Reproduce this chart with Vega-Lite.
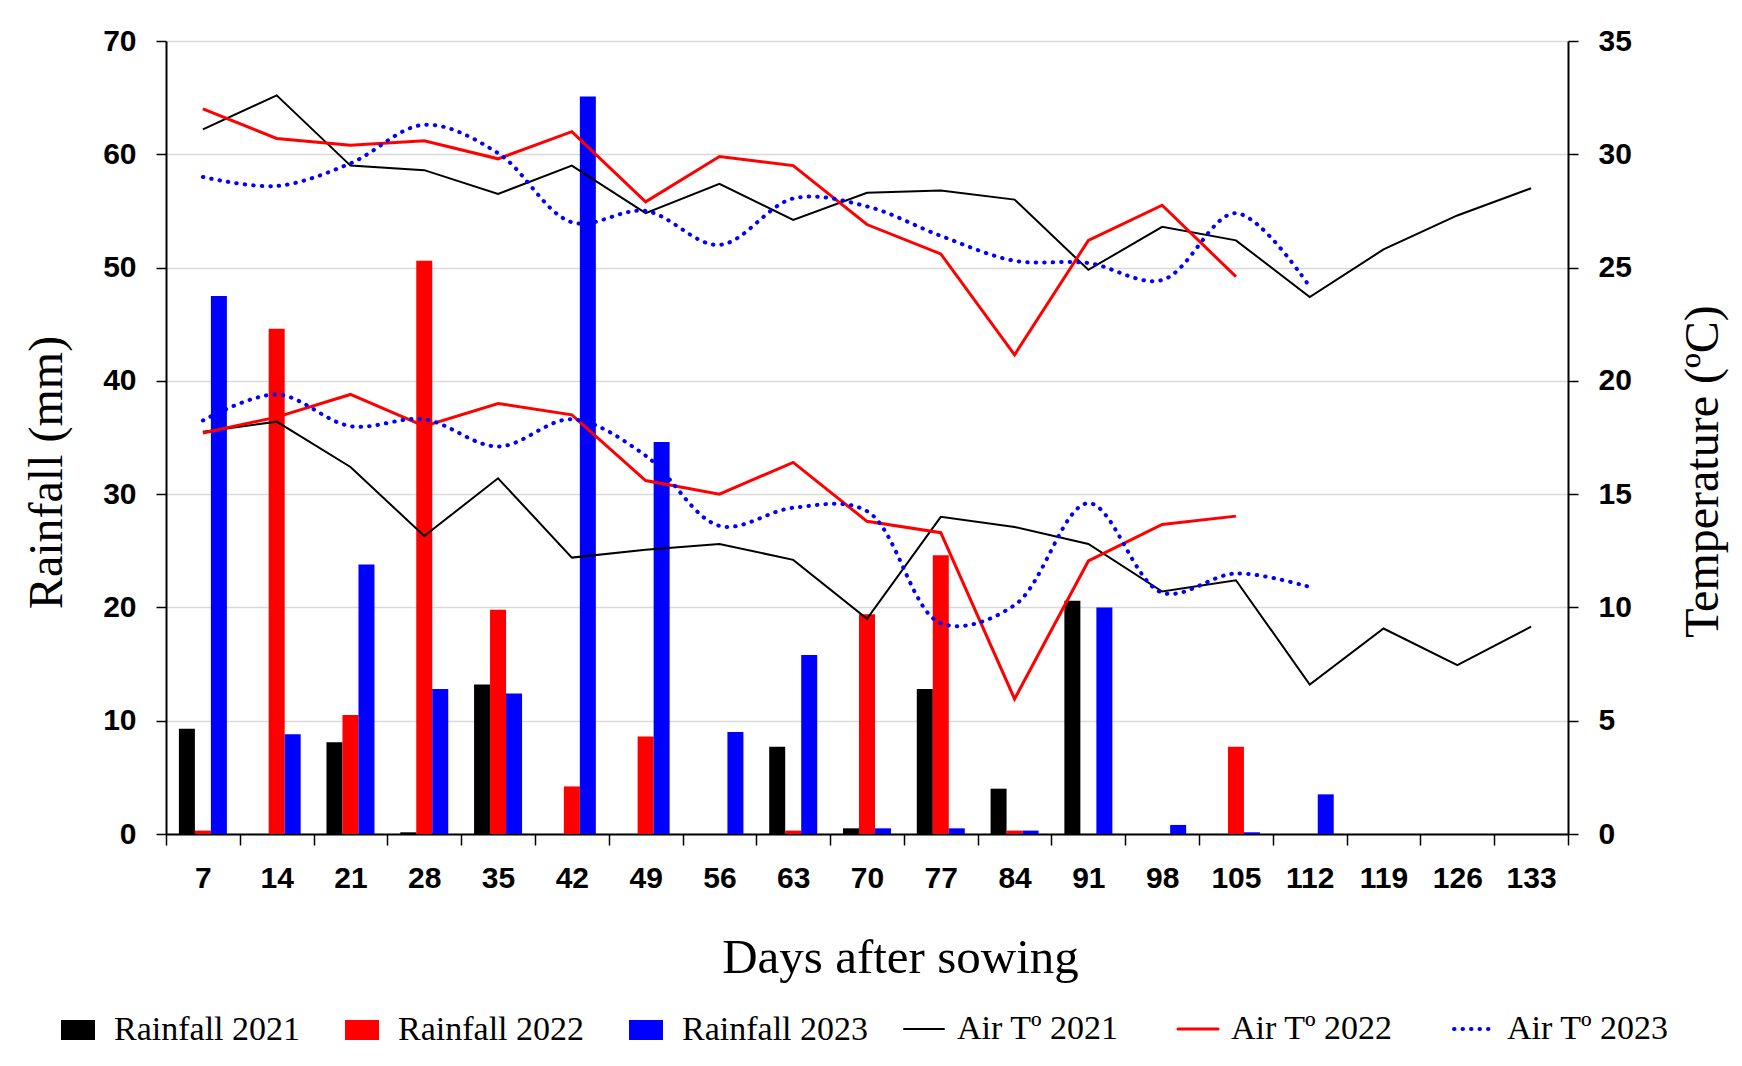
{
  "$schema": "https://vega.github.io/schema/vega-lite/v6.json",
  "autosize": {"type": "none"},
  "padding": {"left": 166, "top": 41, "right": 174, "bottom": 232},
  "width": 1402,
  "height": 793,
  "background": "white",
  "config": {
    "view": {"stroke": null},
    "axis": {
      "labelFont": "Liberation Sans",
      "labelFontWeight": "bold",
      "labelFontSize": 30,
      "labelColor": "#000000",
      "titleFont": "Liberation Serif",
      "titleFontWeight": "normal",
      "titleFontSize": 48,
      "titleColor": "#000000",
      "domainColor": "#000000",
      "domainWidth": 2,
      "tickColor": "#000000",
      "tickWidth": 1.5,
      "tickSize": 10
    }
  },
  "datasets": {
    "rain": [
      {"day": 7, "series": "Rainfall 2021", "mm": 9.3},
      {"day": 14, "series": "Rainfall 2021", "mm": 0},
      {"day": 21, "series": "Rainfall 2021", "mm": 8.1},
      {"day": 28, "series": "Rainfall 2021", "mm": 0.15},
      {"day": 35, "series": "Rainfall 2021", "mm": 13.2},
      {"day": 42, "series": "Rainfall 2021", "mm": 0},
      {"day": 49, "series": "Rainfall 2021", "mm": 0},
      {"day": 56, "series": "Rainfall 2021", "mm": 0},
      {"day": 63, "series": "Rainfall 2021", "mm": 7.7},
      {"day": 70, "series": "Rainfall 2021", "mm": 0.5},
      {"day": 77, "series": "Rainfall 2021", "mm": 12.8},
      {"day": 84, "series": "Rainfall 2021", "mm": 4.0},
      {"day": 91, "series": "Rainfall 2021", "mm": 20.6},
      {"day": 98, "series": "Rainfall 2021", "mm": 0},
      {"day": 105, "series": "Rainfall 2021", "mm": 0},
      {"day": 112, "series": "Rainfall 2021", "mm": 0},
      {"day": 119, "series": "Rainfall 2021", "mm": 0},
      {"day": 126, "series": "Rainfall 2021", "mm": 0},
      {"day": 133, "series": "Rainfall 2021", "mm": 0},
      {"day": 7, "series": "Rainfall 2022", "mm": 0.3},
      {"day": 14, "series": "Rainfall 2022", "mm": 44.6},
      {"day": 21, "series": "Rainfall 2022", "mm": 10.5},
      {"day": 28, "series": "Rainfall 2022", "mm": 50.6},
      {"day": 35, "series": "Rainfall 2022", "mm": 19.8},
      {"day": 42, "series": "Rainfall 2022", "mm": 4.2},
      {"day": 49, "series": "Rainfall 2022", "mm": 8.6},
      {"day": 56, "series": "Rainfall 2022", "mm": 0},
      {"day": 63, "series": "Rainfall 2022", "mm": 0.3},
      {"day": 70, "series": "Rainfall 2022", "mm": 19.4},
      {"day": 77, "series": "Rainfall 2022", "mm": 24.6},
      {"day": 84, "series": "Rainfall 2022", "mm": 0.3},
      {"day": 91, "series": "Rainfall 2022", "mm": 0},
      {"day": 98, "series": "Rainfall 2022", "mm": 0},
      {"day": 105, "series": "Rainfall 2022", "mm": 7.7},
      {"day": 112, "series": "Rainfall 2022", "mm": 0},
      {"day": 7, "series": "Rainfall 2023", "mm": 47.5},
      {"day": 14, "series": "Rainfall 2023", "mm": 8.8},
      {"day": 21, "series": "Rainfall 2023", "mm": 23.8},
      {"day": 28, "series": "Rainfall 2023", "mm": 12.8},
      {"day": 35, "series": "Rainfall 2023", "mm": 12.4},
      {"day": 42, "series": "Rainfall 2023", "mm": 65.1},
      {"day": 49, "series": "Rainfall 2023", "mm": 34.6},
      {"day": 56, "series": "Rainfall 2023", "mm": 9.0},
      {"day": 63, "series": "Rainfall 2023", "mm": 15.8},
      {"day": 70, "series": "Rainfall 2023", "mm": 0.5},
      {"day": 77, "series": "Rainfall 2023", "mm": 0.5},
      {"day": 84, "series": "Rainfall 2023", "mm": 0.3},
      {"day": 91, "series": "Rainfall 2023", "mm": 20.0},
      {"day": 98, "series": "Rainfall 2023", "mm": 0.8},
      {"day": 105, "series": "Rainfall 2023", "mm": 0.15},
      {"day": 112, "series": "Rainfall 2023", "mm": 3.5}
    ],
    "temp": [
      {"day": 7, "series": "Air Tº 2021", "kind": "max", "t": 31.1},
      {"day": 14, "series": "Air Tº 2021", "kind": "max", "t": 32.6},
      {"day": 21, "series": "Air Tº 2021", "kind": "max", "t": 29.5},
      {"day": 28, "series": "Air Tº 2021", "kind": "max", "t": 29.3},
      {"day": 35, "series": "Air Tº 2021", "kind": "max", "t": 28.25},
      {"day": 42, "series": "Air Tº 2021", "kind": "max", "t": 29.5},
      {"day": 49, "series": "Air Tº 2021", "kind": "max", "t": 27.4},
      {"day": 56, "series": "Air Tº 2021", "kind": "max", "t": 28.7},
      {"day": 63, "series": "Air Tº 2021", "kind": "max", "t": 27.1},
      {"day": 70, "series": "Air Tº 2021", "kind": "max", "t": 28.3},
      {"day": 77, "series": "Air Tº 2021", "kind": "max", "t": 28.4},
      {"day": 84, "series": "Air Tº 2021", "kind": "max", "t": 28.0},
      {"day": 91, "series": "Air Tº 2021", "kind": "max", "t": 24.9},
      {"day": 98, "series": "Air Tº 2021", "kind": "max", "t": 26.8},
      {"day": 105, "series": "Air Tº 2021", "kind": "max", "t": 26.2},
      {"day": 112, "series": "Air Tº 2021", "kind": "max", "t": 23.7},
      {"day": 119, "series": "Air Tº 2021", "kind": "max", "t": 25.8},
      {"day": 126, "series": "Air Tº 2021", "kind": "max", "t": 27.3},
      {"day": 133, "series": "Air Tº 2021", "kind": "max", "t": 28.5},
      {"day": 7, "series": "Air Tº 2021", "kind": "min", "t": 17.75},
      {"day": 14, "series": "Air Tº 2021", "kind": "min", "t": 18.2},
      {"day": 21, "series": "Air Tº 2021", "kind": "min", "t": 16.2},
      {"day": 28, "series": "Air Tº 2021", "kind": "min", "t": 13.15},
      {"day": 35, "series": "Air Tº 2021", "kind": "min", "t": 15.7},
      {"day": 42, "series": "Air Tº 2021", "kind": "min", "t": 12.2},
      {"day": 49, "series": "Air Tº 2021", "kind": "min", "t": 12.55},
      {"day": 56, "series": "Air Tº 2021", "kind": "min", "t": 12.8},
      {"day": 63, "series": "Air Tº 2021", "kind": "min", "t": 12.1},
      {"day": 70, "series": "Air Tº 2021", "kind": "min", "t": 9.5},
      {"day": 77, "series": "Air Tº 2021", "kind": "min", "t": 14.0},
      {"day": 84, "series": "Air Tº 2021", "kind": "min", "t": 13.55},
      {"day": 91, "series": "Air Tº 2021", "kind": "min", "t": 12.8},
      {"day": 98, "series": "Air Tº 2021", "kind": "min", "t": 10.7},
      {"day": 105, "series": "Air Tº 2021", "kind": "min", "t": 11.2},
      {"day": 112, "series": "Air Tº 2021", "kind": "min", "t": 6.6},
      {"day": 119, "series": "Air Tº 2021", "kind": "min", "t": 9.07},
      {"day": 126, "series": "Air Tº 2021", "kind": "min", "t": 7.45},
      {"day": 133, "series": "Air Tº 2021", "kind": "min", "t": 9.15},
      {"day": 7, "series": "Air Tº 2022", "kind": "max", "t": 32.0},
      {"day": 14, "series": "Air Tº 2022", "kind": "max", "t": 30.7},
      {"day": 21, "series": "Air Tº 2022", "kind": "max", "t": 30.4},
      {"day": 28, "series": "Air Tº 2022", "kind": "max", "t": 30.6},
      {"day": 35, "series": "Air Tº 2022", "kind": "max", "t": 29.8},
      {"day": 42, "series": "Air Tº 2022", "kind": "max", "t": 31.0},
      {"day": 49, "series": "Air Tº 2022", "kind": "max", "t": 27.9},
      {"day": 56, "series": "Air Tº 2022", "kind": "max", "t": 29.9},
      {"day": 63, "series": "Air Tº 2022", "kind": "max", "t": 29.5},
      {"day": 70, "series": "Air Tº 2022", "kind": "max", "t": 26.9},
      {"day": 77, "series": "Air Tº 2022", "kind": "max", "t": 25.6},
      {"day": 84, "series": "Air Tº 2022", "kind": "max", "t": 21.15},
      {"day": 91, "series": "Air Tº 2022", "kind": "max", "t": 26.2},
      {"day": 98, "series": "Air Tº 2022", "kind": "max", "t": 27.75},
      {"day": 105, "series": "Air Tº 2022", "kind": "max", "t": 24.6},
      {"day": 7, "series": "Air Tº 2022", "kind": "min", "t": 17.7},
      {"day": 14, "series": "Air Tº 2022", "kind": "min", "t": 18.4},
      {"day": 21, "series": "Air Tº 2022", "kind": "min", "t": 19.4},
      {"day": 28, "series": "Air Tº 2022", "kind": "min", "t": 18.0},
      {"day": 35, "series": "Air Tº 2022", "kind": "min", "t": 19.0},
      {"day": 42, "series": "Air Tº 2022", "kind": "min", "t": 18.5},
      {"day": 49, "series": "Air Tº 2022", "kind": "min", "t": 15.6},
      {"day": 56, "series": "Air Tº 2022", "kind": "min", "t": 15.0},
      {"day": 63, "series": "Air Tº 2022", "kind": "min", "t": 16.4},
      {"day": 70, "series": "Air Tº 2022", "kind": "min", "t": 13.8},
      {"day": 77, "series": "Air Tº 2022", "kind": "min", "t": 13.3},
      {"day": 84, "series": "Air Tº 2022", "kind": "min", "t": 5.96},
      {"day": 91, "series": "Air Tº 2022", "kind": "min", "t": 12.05},
      {"day": 98, "series": "Air Tº 2022", "kind": "min", "t": 13.66},
      {"day": 105, "series": "Air Tº 2022", "kind": "min", "t": 14.03},
      {"day": 7, "series": "Air Tº 2023", "kind": "max", "t": 29.0},
      {"day": 14, "series": "Air Tº 2023", "kind": "max", "t": 28.6},
      {"day": 21, "series": "Air Tº 2023", "kind": "max", "t": 29.6},
      {"day": 28, "series": "Air Tº 2023", "kind": "max", "t": 31.3},
      {"day": 35, "series": "Air Tº 2023", "kind": "max", "t": 30.05},
      {"day": 42, "series": "Air Tº 2023", "kind": "max", "t": 27.0},
      {"day": 49, "series": "Air Tº 2023", "kind": "max", "t": 27.5},
      {"day": 56, "series": "Air Tº 2023", "kind": "max", "t": 26.0},
      {"day": 63, "series": "Air Tº 2023", "kind": "max", "t": 28.05},
      {"day": 70, "series": "Air Tº 2023", "kind": "max", "t": 27.7},
      {"day": 77, "series": "Air Tº 2023", "kind": "max", "t": 26.4},
      {"day": 84, "series": "Air Tº 2023", "kind": "max", "t": 25.3},
      {"day": 91, "series": "Air Tº 2023", "kind": "max", "t": 25.2},
      {"day": 98, "series": "Air Tº 2023", "kind": "max", "t": 24.45},
      {"day": 105, "series": "Air Tº 2023", "kind": "max", "t": 27.4},
      {"day": 112, "series": "Air Tº 2023", "kind": "max", "t": 24.15},
      {"day": 7, "series": "Air Tº 2023", "kind": "min", "t": 18.25},
      {"day": 14, "series": "Air Tº 2023", "kind": "min", "t": 19.4},
      {"day": 21, "series": "Air Tº 2023", "kind": "min", "t": 18.0},
      {"day": 28, "series": "Air Tº 2023", "kind": "min", "t": 18.3},
      {"day": 35, "series": "Air Tº 2023", "kind": "min", "t": 17.1},
      {"day": 42, "series": "Air Tº 2023", "kind": "min", "t": 18.3},
      {"day": 49, "series": "Air Tº 2023", "kind": "min", "t": 16.7},
      {"day": 56, "series": "Air Tº 2023", "kind": "min", "t": 13.6},
      {"day": 63, "series": "Air Tº 2023", "kind": "min", "t": 14.4},
      {"day": 70, "series": "Air Tº 2023", "kind": "min", "t": 14.25},
      {"day": 77, "series": "Air Tº 2023", "kind": "min", "t": 9.3},
      {"day": 84, "series": "Air Tº 2023", "kind": "min", "t": 10.1},
      {"day": 91, "series": "Air Tº 2023", "kind": "min", "t": 14.6},
      {"day": 98, "series": "Air Tº 2023", "kind": "min", "t": 10.65},
      {"day": 105, "series": "Air Tº 2023", "kind": "min", "t": 11.5},
      {"day": 112, "series": "Air Tº 2023", "kind": "min", "t": 10.9}
    ]
  },
  "layer": [
    {
      "data": {"name": "rain"},
      "mark": {"type": "bar"},
      "encoding": {
        "x": {
          "field": "day", "type": "ordinal", "title": "Days after sowing",
          "scale": {"domain": [7,14,21,28,35,42,49,56,63,70,77,84,91,98,105,112,119,126,133], "paddingInner": 0, "paddingOuter": 0},
          "axis": {"labelAngle": 0, "tickBand": "extent", "tickSize": 11, "labelPadding": 18, "grid": false, "titleX": 734, "titleY": 123, "titleBaseline": "middle", "titleAlign": "center", "titleFontSize": 49}
        },
        "xOffset": {
          "field": "series", "type": "nominal",
          "scale": {"domain": ["Rainfall 2021", "Rainfall 2022", "Rainfall 2023"], "paddingInner": 0, "paddingOuter": 0.806}
        },
        "y": {
          "field": "mm", "type": "quantitative", "title": "Rainfall (mm)",
          "scale": {"domain": [0, 70], "nice": false},
          "axis": {"orient": "left", "values": [0,10,20,30,40,50,60,70], "grid": true, "gridColor": "#d9d9d9", "gridWidth": 1.5, "labelPadding": 20, "titleAngle": -90, "titleX": -119, "titleY": 431, "titleBaseline": "middle", "titleAlign": "center"}
        },
        "fill": {
          "field": "series", "type": "nominal",
          "scale": {"domain": ["Rainfall 2021", "Rainfall 2022", "Rainfall 2023"], "range": ["#000000", "#ff0000", "#0000ff"]},
          "legend": {
            "orient": "none", "legendX": -108, "legendY": 969, "direction": "horizontal", "columns": 3,
            "title": null, "padding": 0, "labelLimit": 500,
            "labelFont": "Liberation Serif", "labelFontSize": 34, "labelColor": "#000000",
            "symbolType": "M-0.85,-0.5H0.85V0.5H-0.85Z", "symbolSize": 1600, "symbolStrokeWidth": 0, "symbolOpacity": 1,
            "labelOffset": 16, "columnPadding": 41
          }
        }
      }
    },
    {
      "data": {"name": "temp"},
      "encoding": {
        "x": {
          "field": "day", "type": "ordinal", "title": "Days after sowing"
        },
        "y": {
          "field": "t", "type": "quantitative", "title": "Temperature (ºC)",
          "scale": {"domain": [0, 35], "nice": false},
          "axis": {"orient": "right", "values": [0,5,10,15,20,25,30,35], "grid": false, "labelPadding": 20, "titleAngle": -90, "titleX": 135, "titleY": 430, "titleBaseline": "middle", "titleAlign": "center"}
        },
        "stroke": {
          "field": "series", "type": "nominal",
          "scale": {"domain": ["Air Tº 2021", "Air Tº 2022", "Air Tº 2023"], "range": ["#000000", "#ff0000", "#0000ff"]},
          "legend": {
            "orient": "none", "legendX": 741, "legendY": 971, "direction": "horizontal", "columns": 3,
            "title": null, "padding": 0, "labelLimit": 500,
            "labelFont": "Liberation Serif", "labelFontSize": 34, "labelColor": "#000000",
            "symbolType": "stroke", "symbolSize": 1600,
            "labelOffset": 16, "columnPadding": 53,
            "encode": {"symbols": {"update": {
              "strokeCap": {"value": "round"},
              "strokeWidth": {"signal": "datum.label === 'Air Tº 2021' ? 2 : (datum.label === 'Air Tº 2022' ? 3 : 4)"},
              "strokeDash": {"signal": "datum.label === 'Air Tº 2023' ? [0.5, 8] : [1, 0]"}
            }}}
          }
        },
        "detail": {"field": "kind", "type": "nominal"}
      },
      "layer": [
        {
          "transform": [{"filter": "datum.series === 'Air Tº 2021'"}],
          "mark": {"type": "line", "strokeWidth": 2, "strokeJoin": "miter"}
        },
        {
          "transform": [{"filter": "datum.series === 'Air Tº 2022'"}],
          "mark": {"type": "line", "strokeWidth": 3, "strokeJoin": "miter"}
        },
        {
          "transform": [{"filter": "datum.series === 'Air Tº 2023'"}],
          "mark": {"type": "line", "interpolate": "catmull-rom", "strokeWidth": 4, "strokeCap": "round", "strokeDash": [0.5, 8]}
        }
      ]
    }
  ],
  "resolve": {"scale": {"y": "independent"}}
}
